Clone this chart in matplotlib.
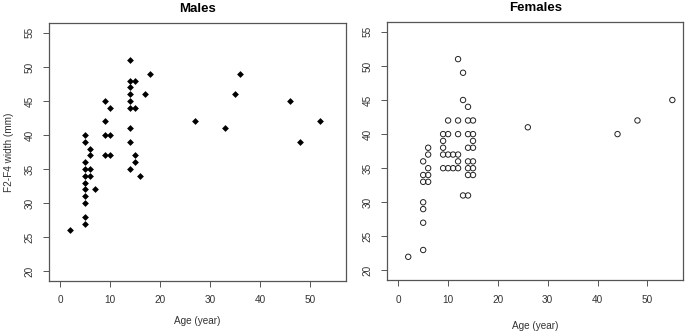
import matplotlib
matplotlib.use("Agg")
import matplotlib.pyplot as plt

plt.rcParams['font.family'] = ['Liberation Sans', 'DejaVu Sans']

# Males: age (year) vs F2-F4 width (mm)
male_age = [2, 5, 5, 5, 5, 5, 7, 5, 5, 6, 5, 6, 5, 6, 6, 5, 5,
            9, 10, 9, 10, 9, 9, 10,
            14, 14, 15, 14, 14, 14, 14, 15, 14, 14, 15, 15, 14, 16, 17, 18,
            27, 36, 35, 33, 46, 52, 48]
male_width = [26, 27, 28, 30, 31, 32, 32, 33, 34, 34, 35, 35, 36, 37, 38, 39, 40,
              37, 37, 40, 40, 42, 45, 44,
              51, 48, 48, 47, 46, 45, 44, 44, 41, 39, 37, 36, 35, 34, 46, 49,
              42, 49, 46, 41, 45, 42, 39]

# Females
female_age = [2, 5, 5, 5, 5, 5, 5, 5, 6, 6, 6, 6, 6,
              9, 10, 11, 12, 9, 10, 11, 12, 9, 9, 9, 10, 10, 12, 12, 12, 12,
              13, 13, 14, 13, 14, 14, 15, 14, 15, 15, 14, 15, 14, 15, 14, 15, 14, 15,
              26, 44, 48, 55]
female_width = [22, 23, 27, 29, 30, 33, 34, 36, 33, 34, 35, 37, 38,
                35, 35, 35, 35, 37, 37, 37, 37, 38, 39, 40, 40, 42, 36, 40, 42, 51,
                49, 45, 44, 31, 31, 42, 42, 40, 40, 39, 38, 38, 36, 36, 35, 35, 34, 34,
                41, 40, 42, 45]

x_ticks = [0, 10, 20, 30, 40, 50]
y_ticks = [20, 25, 30, 35, 40, 45, 50, 55]

fig = plt.figure(figsize=(6.85, 3.33), dpi=100)
ax1 = fig.add_axes([49.3 / 685, (333 - 280.7) / 333, 296.7 / 685, 257.4 / 333])
ax2 = fig.add_axes([387.3 / 685, (333 - 280) / 333, 296 / 685, 257.7 / 333])

ax1.scatter(male_age, male_width, marker='D', s=12, color='black', linewidths=0)
ax2.scatter(female_age, female_width, marker='o', s=15, facecolors='none',
            edgecolors='#222222', linewidths=0.7)

for ax, title in [(ax1, 'Males'), (ax2, 'Females')]:
    ax.set_xlim(-2.2, 57.2)
    ax.set_ylim(18.6, 56.4)
    ax.set_xticks(x_ticks)
    ax.set_yticks(y_ticks)
    ax.tick_params(direction='out', length=4.5, width=0.7, color='#555555',
                   labelsize=7.2, labelcolor='#333333', pad=6)
    for lab in ax.get_yticklabels():
        lab.set_rotation(90)
        lab.set_va('center')
    for sp in ax.spines.values():
        sp.set_color('#555555')
        sp.set_linewidth(0.9)
    ax.set_title(title, fontsize=9.5, fontweight='bold', pad=8)
    ax.set_xlabel('Age (year)', fontsize=7.2, color='#333333', labelpad=8)

ax2.xaxis.labelpad = 12
ax1.set_ylabel('F2-F4 width (mm)', fontsize=7.2, color='#333333', labelpad=8)

fig.savefig('out.png', dpi=100)
